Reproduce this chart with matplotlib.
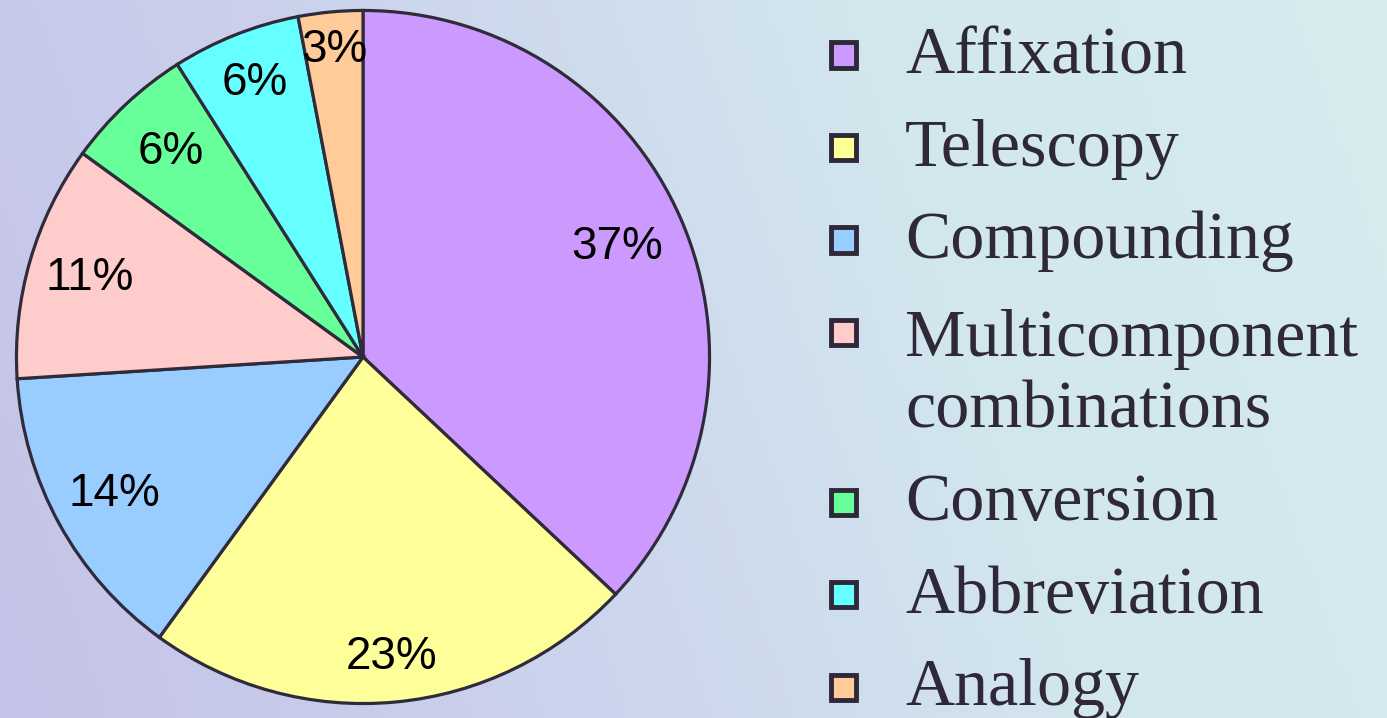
import numpy as np
import matplotlib
matplotlib.use("Agg")
import matplotlib.pyplot as plt
from matplotlib.patches import Rectangle
from matplotlib.colors import LinearSegmentedColormap

# datos del grafico
categorias = ["Affixation", "Telescopy", "Compounding", "Multicomponent\ncombinations",
              "Conversion", "Abbreviation", "Analogy"]
porcentajes = [37, 23, 14, 11, 6, 6, 3]
colores = ["#CC99FF", "#FFFF99", "#99CCFF", "#FFCCCC", "#66FF99", "#66FFFF", "#FFCC99"]
# distancia de cada etiqueta al centro (fraccion del radio)
dist_etiquetas = [0.80, 0.87, 0.82, 0.82, 0.81, 0.85, 0.89]

W, H = 1387, 718
fig = plt.figure(figsize=(W / 100, H / 100), dpi=100)

# fondo degradado lavanda -> celeste
bg = fig.add_axes([0, 0, 1, 1], zorder=-10)
fondo = LinearSegmentedColormap.from_list("fondo", ["#c4c2e8", "#cbd2ec", "#d2e6ee", "#d6ecee"])
gx = np.linspace(0, 1, 300)
gy = np.linspace(0, 1, 100)
GX, GY = np.meshgrid(gx, gy)
bg.imshow(GX * 0.85 + (1 - GY) * 0.15, cmap=fondo, aspect="auto", extent=[0, 1, 0, 1])
bg.axis("off")

# tarta: centro (363, 357) px, radio 350 px
cx, cy, r = 363, 357, 350
ax = fig.add_axes([(cx - r) / W, (H - cy - r) / H, 2 * r / W, 2 * r / H])
wedges, _ = ax.pie(porcentajes, colors=colores, startangle=90, counterclock=False,
                   radius=1, wedgeprops=dict(edgecolor="#302b3b", linewidth=2.3))
ax.set_xlim(-1.01, 1.01)
ax.set_ylim(-1.01, 1.01)
ax.axis("off")

for w, p, d in zip(wedges, porcentajes, dist_etiquetas):
    ang = np.deg2rad((w.theta1 + w.theta2) / 2)
    ax.text(d * np.cos(ang), d * np.sin(ang), f"{p}%", ha="center", va="center",
            fontsize=33, family="Liberation Sans", color="black")

# leyenda a mano (y = linea base de la primera linea en px)
y = 73
lado = 25
interlinea = 77
for cat, col in zip(categorias, colores):
    extra = cat.count("\n") * interlinea
    ym = y - 18
    fig.add_artist(Rectangle(((843 - lado / 2) / W, (H - ym - lado / 2) / H), lado / W, lado / H,
                             transform=fig.transFigure, facecolor=col,
                             edgecolor="#2e2838", linewidth=3.5))
    # con varias lineas, 'baseline' se refiere a la ultima
    fig.text(905 / W, (H - y - extra) / H, cat, ha="left", va="baseline",
             fontsize=49, family="Liberation Serif", color="#2e2838",
             linespacing=1.23)
    y += 92.5 + extra

fig.savefig("out.png", dpi=100)
